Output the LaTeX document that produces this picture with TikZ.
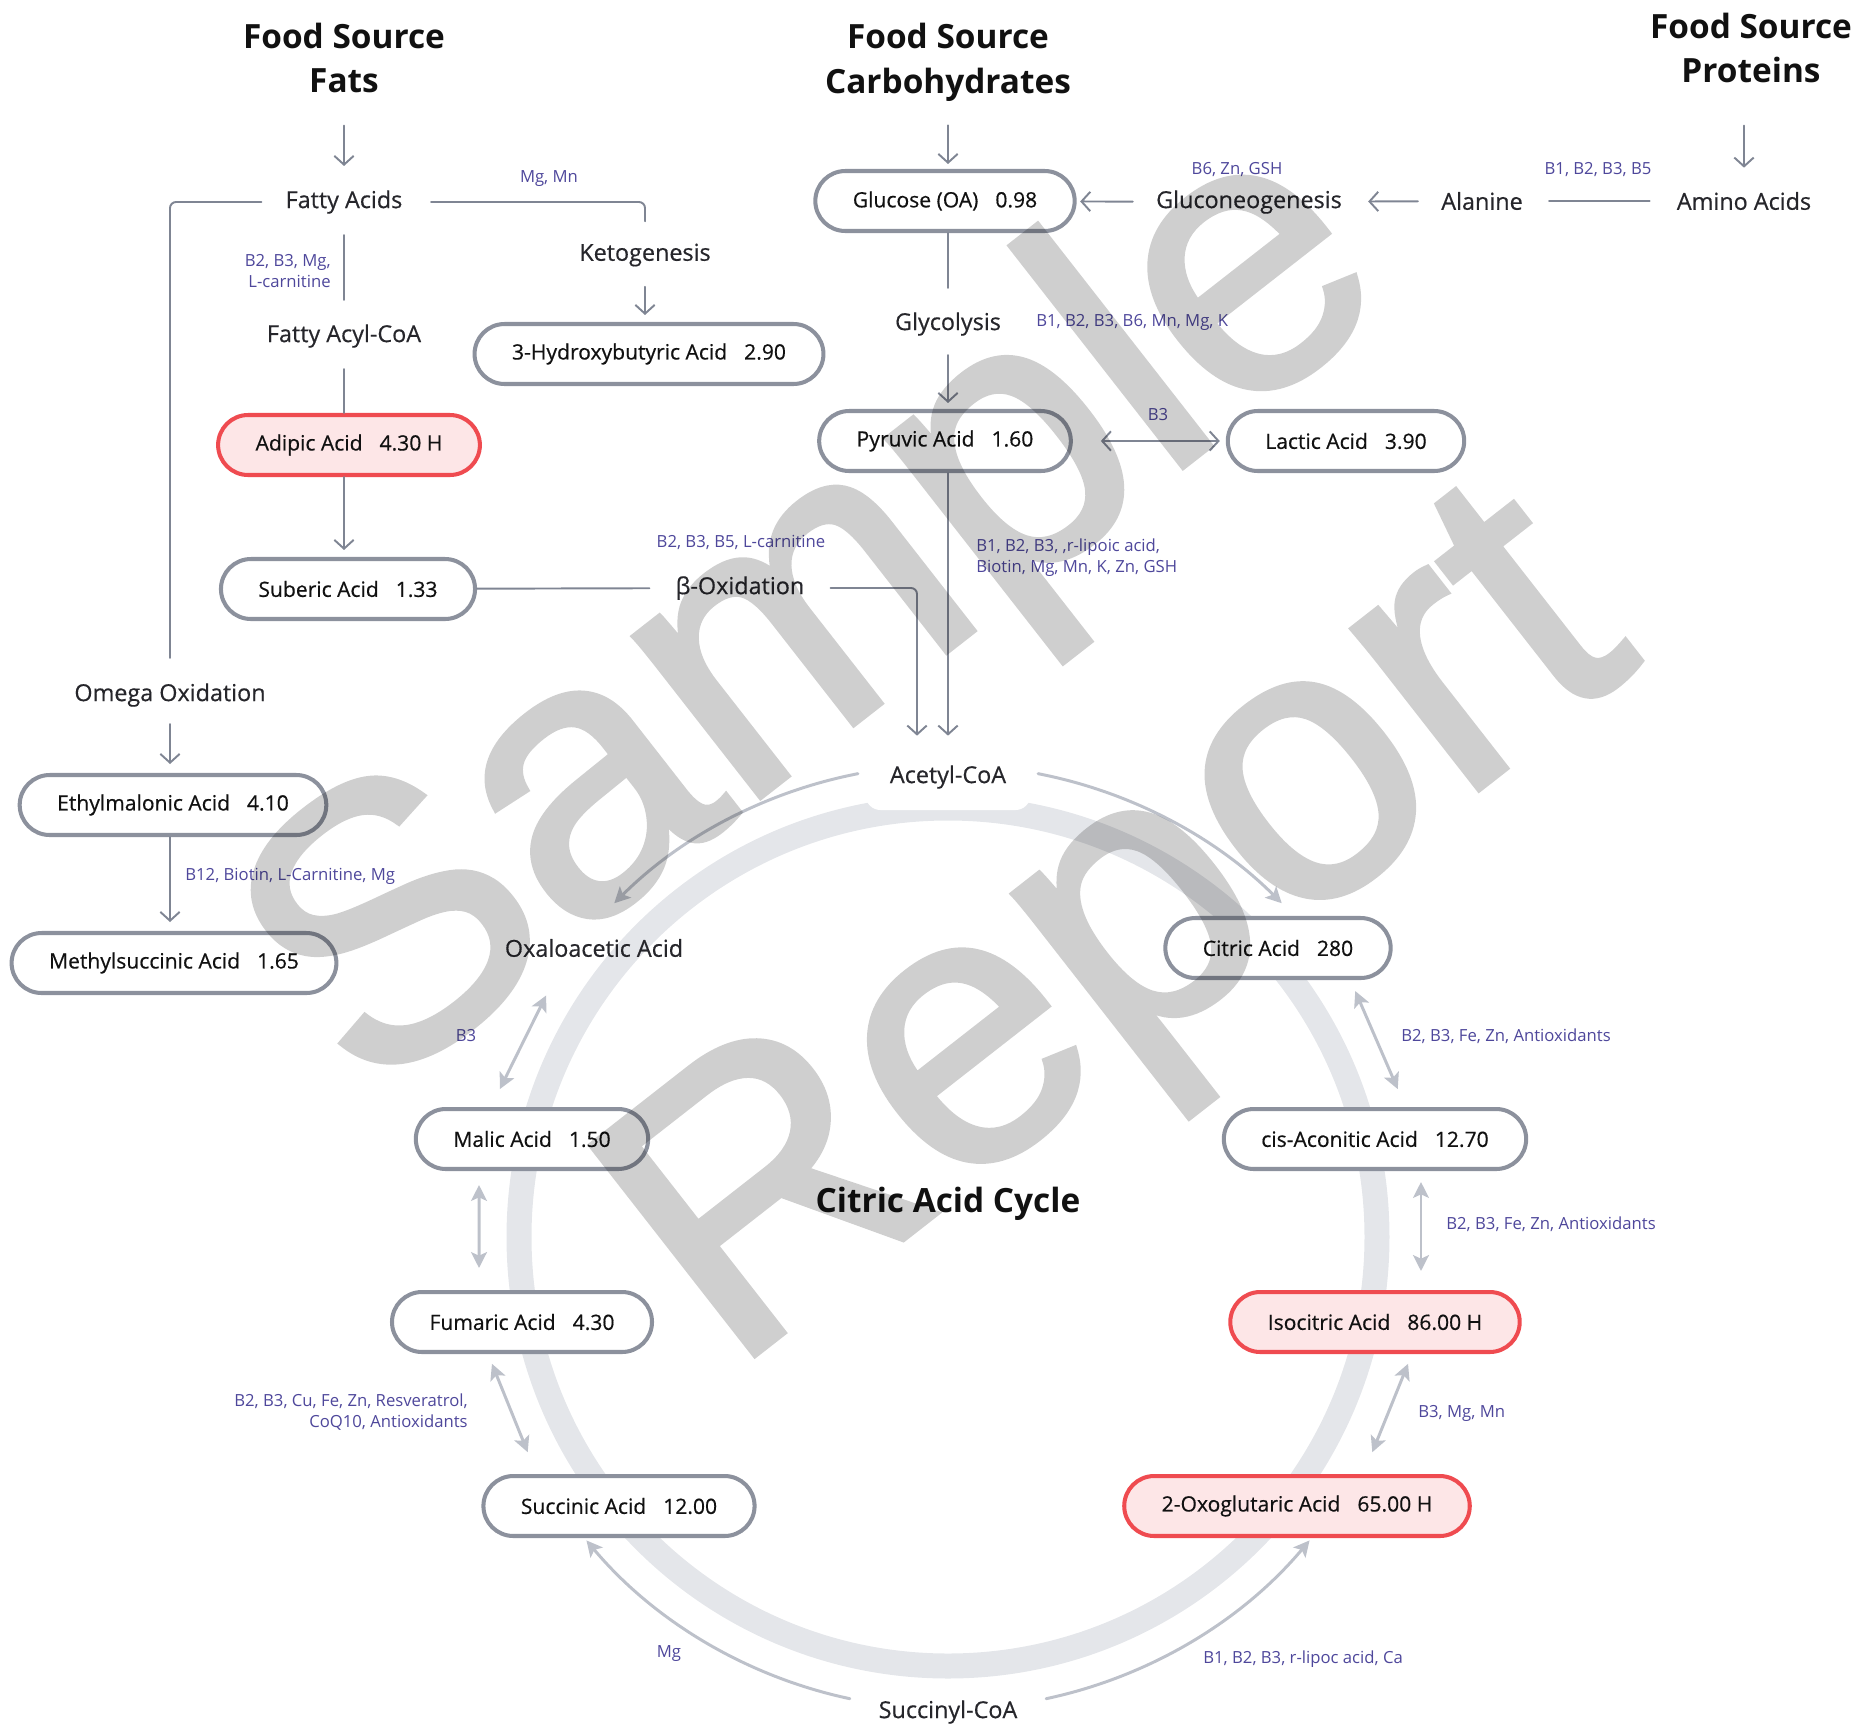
\documentclass[tikz,border=0pt]{standalone}
\usepackage{fontspec}
\setmainfont{Open Sans}
\newfontfamily\stampfont[FakeBold=1.6]{Liberation Sans}
\newfontfamily\midfont[FakeBold=0.5]{Open Sans}
\usetikzlibrary{arrows.meta}
\definecolor{edgegray}{HTML}{8C919D}
\definecolor{alertred}{HTML}{EF4B50}
\definecolor{alertpink}{HTML}{FDE6E7}
\definecolor{wiregray}{HTML}{7F8593}
\definecolor{cyclegray}{HTML}{BDC1CA}
\definecolor{ringgray}{HTML}{E4E6EA}
\definecolor{cofac}{HTML}{4E479B}
\definecolor{labelgray}{HTML}{26262B}
\definecolor{inkblack}{HTML}{111111}
\newcommand\valgap{\hspace{0.34cm}}
\tikzset{
  acid/.style={draw=edgegray, line width=2.3pt, fill=white, rounded corners=0.6cm,
    minimum height=1.2cm, inner xsep=0.75cm, inner ysep=0pt, text=inkblack,
    font=\midfont\fontsize{12}{14}\selectfont},
  high/.style={acid, draw=alertred, fill=alertpink},
  lbl/.style={inner sep=0pt, text=labelgray, font=\midfont\fontsize{13.3}{16}\selectfont},
  src/.style={inner sep=0pt, align=center, text=inkblack, font=\fontsize{19}{25.5}\selectfont\bfseries},
  notch/.style={fill=white, rounded corners=0.3cm, minimum width=3.3cm, minimum height=1.32cm},
  cof/.style={inner sep=0pt, text=cofac, font=\fontsize{9.5}{12}\selectfont},
  flow/.style={draw=wiregray, line width=1.1pt, -{Straight Barb[length=5pt,width=11pt]}},
  flowboth/.style={flow, {Straight Barb[length=5pt,width=11pt]}-{Straight Barb[length=5pt,width=11pt]}},
  link/.style={draw=wiregray, line width=1.1pt},
  cyc/.style={draw=cyclegray, line width=1.7pt, -{Stealth[length=9pt,width=9pt,inset=2pt]}},
  cycboth/.style={cyc, {Stealth[length=9pt,width=9pt,inset=2pt]}-{Stealth[length=9pt,width=9pt,inset=2pt]}},
  stamp/.style={inner sep=0pt, text=black, font=\stampfont\fontsize{220}{220}\selectfont}
}
\begin{document}
\begin{tikzpicture}[x=0.02cm, y=-0.02cm, line join=round, line cap=round]
\useasboundingbox (0,0) rectangle (1874,1725);
\coordinate (hub) at (948,1237);
%ring of the cycle
\draw[ringgray, line width=0.5cm] (hub) circle[radius=429];

%food sources
\node[src] (fatsrc) at (344,58) {Food Source\\Fats};
\node[src] (carbsrc) at (948,62) {Food Source\\Carbohydrates};
\node[src] (protsrc) at (1751,48) {Food Source\\Proteins};

%steps
\node[lbl] (fatty) at (344,202) {Fatty Acids};
\node[lbl] (acyl) at (344,336) {Fatty Acyl-CoA};
\node[lbl] (keto) at (645,255) {Ketogenesis};
\node[lbl] (gluconeo) at (1249,202) {Gluconeogenesis};
\node[lbl] (alanine) at (1482,201) {Alanine};
\node[lbl] (amino) at (1744,201) {Amino Acids};
\node[lbl] (glyco) at (948,324) {Glycolysis};
\node[lbl] (beta) at (740,588) {β-Oxidation};
\node[lbl] (omega) at (170,695) {Omega Oxidation};
\node[lbl] (oxalo) at (594,948) {Oxaloacetic Acid};
\node[lbl, notch] (acetyl) at (948,777) {Acetyl-CoA};
\node[lbl, notch] (succoa) at (948,1712) {Succinyl-CoA};
\node[src] (cycle) at (948,1204) {Citric Acid Cycle};

%measured acids
\node[acid] (glucose) at (945,201) {Glucose (OA)\valgap 0.98};
\node[acid] (hydroxy) at (649,354) {3-Hydroxybutyric Acid\valgap 2.90};
\node[high] (adipic) at (349,445) {Adipic Acid\valgap 4.30 H};
\node[acid] (pyruvic) at (945,441) {Pyruvic Acid\valgap 1.60};
\node[acid] (lactic) at (1346,441) {Lactic Acid\valgap 3.90};
\node[acid] (suberic) at (348,589) {Suberic Acid\valgap 1.33};
\node[acid] (ethyl) at (173,805) {Ethylmalonic Acid\valgap 4.10};
\node[acid] (methyl) at (174,963) {Methylsuccinic Acid\valgap 1.65};
\node[acid] (citric) at (1278,948) {Citric Acid\valgap 280};
\node[acid] (malic) at (532,1139) {Malic Acid\valgap 1.50};
\node[acid] (aconitic) at (1375,1139) {cis-Aconitic Acid\valgap 12.70};
\node[acid] (fumaric) at (522,1322) {Fumaric Acid\valgap 4.30};
\node[high] (isocitric) at (1375,1322) {Isocitric Acid\valgap 86.00 H};
\node[acid] (succinic) at (619,1506) {Succinic Acid\valgap 12.00};
\node[high] (oxoglut) at (1297,1506) {2-Oxoglutaric Acid\valgap 65.00 H};

%fats
\draw[flow, shorten <=0.64cm, shorten >=0.48cm] (fatsrc) -- (fatty);
\draw[link, shorten <=0.42cm, shorten >=0.48cm] (fatty) -- (acyl);
\draw[link, shorten <=0.42cm] (acyl) -- (acyl |- adipic.north);
\draw[flow, shorten >=0.14cm] (adipic.south -| acyl) -- (acyl |- suberic.north);
\draw[link, rounded corners=0.12cm, shorten <=0.48cm, shorten >=0.5cm] (fatty.west) -| (omega.north);
\draw[flow, shorten <=0.34cm, shorten >=0.18cm] (omega) -- (omega |- ethyl.north);
\draw[flow, shorten >=0.18cm] (ethyl.south -| omega) -- (omega |- methyl.north);
\draw[link, rounded corners=0.12cm, shorten <=0.57cm, shorten >=0.44cm] (fatty.east) -| (keto.north);
\draw[flow, shorten <=0.4cm, shorten >=0.14cm] (keto) -- (keto |- hydroxy.north);
\draw[link, shorten >=0.52cm] (suberic) -- (beta);
\draw[flow, rounded corners=0.12cm, shorten <=0.52cm, shorten >=0.16cm] (beta.east) -| ([xshift=-0.62cm]acetyl.north);
%carbohydrates
\draw[flow, shorten <=0.48cm, shorten >=0.1cm] (carbsrc) -- (carbsrc |- glucose.north);
\draw[link, shorten >=0.48cm] (glucose.south -| glyco) -- (glyco);
\draw[flow, shorten <=0.38cm, shorten >=0.12cm] (glyco) -- (glyco |- pyruvic.north);
\draw[flowboth, shorten <=0.56cm, shorten >=0.12cm] (pyruvic) -- (lactic);
\draw[flow, shorten >=0.16cm] (pyruvic.south -| glyco) -- (glyco |- acetyl.north);
%proteins
\draw[flow, shorten <=0.84cm, shorten >=0.48cm] (protsrc.south -| amino) -- (amino);
\draw[link, shorten <=0.54cm, shorten >=0.52cm] (amino) -- (alanine);
\draw[flow, shorten <=0.46cm, shorten >=0.52cm] (alanine) -- (gluconeo);
\draw[flow, shorten <=0.46cm, shorten >=0.07cm] (gluconeo) -- (glucose);

%cycle
\draw[cyc] ([shift={(-79:472)}]hub) arc[start angle=-79, end angle=-45, radius=472];
\draw[cyc] ([shift={(-101:472)}]hub) arc[start angle=-101, end angle=-135, radius=472];
\draw[cyc] ([shift={(102:472)}]hub) arc[start angle=102, end angle=140, radius=472];
\draw[cyc] ([shift={(78:472)}]hub) arc[start angle=78, end angle=40, radius=472];
\draw[cycboth, shorten <=0.85cm, shorten >=0.4cm] ([xshift=-0.58cm]oxalo.south) -- ([xshift=-0.82cm]malic.north);
\draw[cycboth, shorten <=0.28cm, shorten >=0.44cm] ([xshift=-1.06cm]malic.south) -- ([xshift=-0.86cm]fumaric.north);
\draw[cycboth, shorten <=0.21cm, shorten >=0.47cm] ([xshift=-0.68cm]fumaric.south) -- ([xshift=-1.65cm]succinic.north);
\draw[cycboth, shorten <=0.24cm, shorten >=0.39cm] ([xshift=1.45cm]citric.south) -- ([xshift=0.61cm]aconitic.north);
\draw[cycboth, shorten <=0.22cm, shorten >=0.38cm] ([xshift=0.92cm]aconitic.south) -- ([xshift=0.92cm]isocitric.north);
\draw[cycboth, shorten <=0.21cm, shorten >=0.47cm] ([xshift=0.74cm]isocitric.south) -- ([xshift=1.33cm]oxoglut.north);

%cofactors
\node[cof] (cfmn) at (549,179) {Mg, Mn};
\node[cof, anchor=east, align=right] (cfacyl) at (331,271) {B2, B3, Mg,\\L-carnitine};
\node[cof] (cfgluc) at (1237,170) {B6, Zn, GSH};
\node[cof] (cfala) at (1598,170) {B1, B2, B3, B5};
\node[cof, anchor=west] (cfglyc) at (1036,322) {B1, B2, B3, B6, Mn, Mg, K};
\node[cof] (cflac) at (1158,415) {B3};
\node[cof] (cfbeta) at (741,542) {B2, B3, B5, L-carnitine};
\node[cof, anchor=west, align=left] (cfpdh) at (976,558) {B1, B2, B3, ,r-lipoic acid,\\Biotin, Mg, Mn, K, Zn, GSH};
\node[cof, anchor=west] (cfethyl) at (185,876) {B12, Biotin, L-Carnitine, Mg};
\node[cof] (cfmal) at (466,1036) {B3};
\node[cof, anchor=west] (cfcit) at (1401,1036) {B2, B3, Fe, Zn, Antioxidants};
\node[cof, anchor=west] (cfacon) at (1446,1224) {B2, B3, Fe, Zn, Antioxidants};
\node[cof, anchor=east, align=right] (cffum) at (468,1412) {B2, B3, Cu, Fe, Zn, Resveratrol,\\CoQ10, Antioxidants};
\node[cof, anchor=west] (cfiso) at (1418,1413) {B3, Mg, Mn};
\node[cof] (cfsuc) at (669,1654) {Mg};
\node[cof, anchor=west] (cfoxo) at (1203,1659) {B1, B2, B3, r-lipoc acid, Ca};

%watermark
\begin{scope}[transparency group, opacity=0.19]
\node[stamp, rotate=38] (wmone) at (822,622) {Sample};
\node[stamp, rotate=38] (wmtwo) at (1130,944) {Report};
\end{scope}
\end{tikzpicture}
\end{document}
